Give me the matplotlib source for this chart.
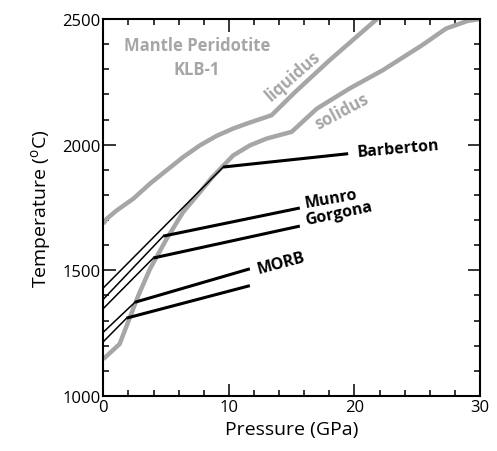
import matplotlib
matplotlib.use("Agg")
import matplotlib.pyplot as plt
from matplotlib.ticker import MultipleLocator

plt.rcParams['font.family'] = ['Open Sans', 'DejaVu Sans']
plt.rcParams['mathtext.fontset'] = 'custom'
plt.rcParams['mathtext.rm'] = 'Open Sans'

# Phase boundaries of mantle peridotite KLB-1
solidus_P = [0, 1.3, 2.79, 3.72, 5.04, 6.36, 7.71, 8.6, 9.55, 10.34, 11.67, 13.0, 15.0,
             17.0, 19.6, 22.25, 25.4, 27.3, 29.0, 30]
solidus_T = [1147, 1207, 1400, 1506, 1625, 1732, 1812, 1866, 1916, 1957, 1997, 2024, 2051,
             2143, 2223, 2296, 2396, 2462, 2492, 2500]
liquidus_P = [0, 0.27, 1.06, 2.39, 3.72, 5.04, 6.37, 7.69, 9.02, 10.34, 11.67, 13.4,
              15.25, 18.0, 21.8]
liquidus_T = [1685, 1705, 1738, 1785, 1845, 1898, 1951, 1997, 2035, 2064, 2088, 2117,
              2208, 2335, 2500]

# Adiabats: start temperature at P=0, solidus intersection, end of melting path
names = ['Barberton', 'Munro', 'Gorgona', 'MORB', 'MORB']
start_T = [1430, 1385, 1348, 1254, 1216]
kink_P = [9.55, 4.77, 3.98, 2.52, 1.86]
kink_T = [1911, 1636, 1549, 1373, 1310]
end_P = [19.5, 15.65, 15.65, 11.67, 11.67]
end_T = [1964, 1748, 1676, 1506, 1439]

gray = '#a6a6a6'

fig = plt.figure(figsize=(4.97, 4.52), dpi=100)
ax = fig.add_axes([0.2079, 0.1217, 0.7579, 0.8341])

ax.plot(solidus_P, solidus_T, color=gray, lw=3.2, solid_capstyle='butt',
        solid_joinstyle='round', zorder=2)
ax.plot(liquidus_P, liquidus_T, color=gray, lw=3.2, solid_capstyle='butt',
        solid_joinstyle='round', zorder=2)

for i in range(len(names)):
    ax.plot([0, kink_P[i]], [start_T[i], kink_T[i]], color='black', lw=1.1, zorder=3)
    ax.plot([kink_P[i], end_P[i]], [kink_T[i], end_T[i]], color='black', lw=2.2,
            solid_capstyle='butt', zorder=3)

ax.set_xlim(0, 30)
ax.set_ylim(1000, 2500)
ax.xaxis.set_major_locator(MultipleLocator(10))
ax.xaxis.set_minor_locator(MultipleLocator(2))
ax.yaxis.set_major_locator(MultipleLocator(500))
ax.yaxis.set_minor_locator(MultipleLocator(100))
ax.tick_params(which='both', direction='in', top=True, right=True, width=1.1,
               labelsize=12, pad=2)
ax.tick_params(which='major', length=9)
ax.tick_params(which='minor', length=4.5)
for s in ax.spines.values():
    s.set_linewidth(1.5)

ax.set_xlabel('Pressure (GPa)', fontsize=14, labelpad=4)
ax.set_ylabel(r'Temperature ($^{\mathrm{o}}$C)', fontsize=14, labelpad=6)

tb = dict(fontweight='bold', fontsize=12)
ax.text(7.49, 2398, 'Mantle Peridotite', color=gray, ha='center', va='center', **tb)
ax.text(7.43, 2299, 'KLB-1', color=gray, ha='center', va='center', **tb)
ax.text(15.09, 2275, 'liquidus', color=gray, ha='center', va='center', rotation=41,
        rotation_mode='anchor', **tb)
ax.text(19.0, 2135, 'solidus', color=gray, ha='center', va='center', rotation=28,
        rotation_mode='anchor', **tb)

lab_P = [20.25, 16.04, 16.1, 12.3]
lab_T = [1972, 1769, 1701, 1506]
lab_rot = [5, 10, 12, 15]
lab_txt = ['Barberton', 'Munro', 'Gorgona', 'MORB']
for x, y, r, t in zip(lab_P, lab_T, lab_rot, lab_txt):
    ax.text(x, y, t, color='black', ha='left', va='center', rotation=r,
            rotation_mode='anchor', fontweight='bold', fontsize=11.5)

fig.savefig('out.png', dpi=100)
